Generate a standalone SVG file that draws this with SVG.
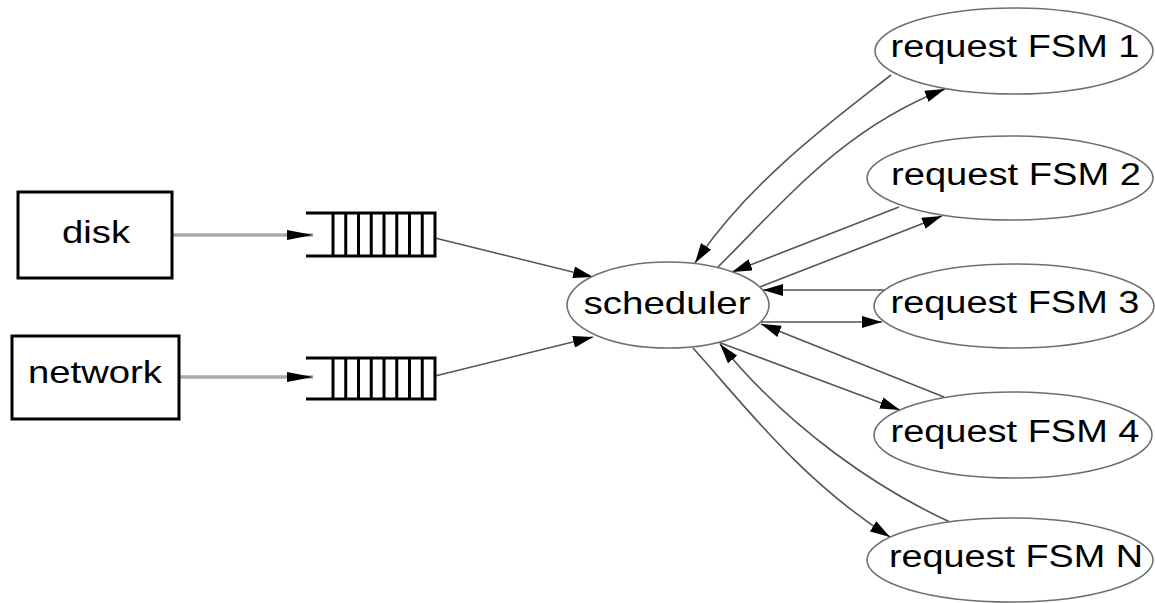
<svg xmlns="http://www.w3.org/2000/svg" width="1155" height="603" viewBox="0 0 1155 603">
<style>
.box{fill:#fff;stroke:#000;stroke-width:3}
.ell{fill:#fff;stroke:#6e6e6e;stroke-width:1.6}
.lbl{font-family:"Liberation Sans",Arial,sans-serif;font-size:32px;fill:#000;text-anchor:middle}
.fsm{font-size:31px}
.edge{fill:none;stroke:#555;stroke-width:1.6;marker-end:url(#ah)}
.in{fill:none;stroke:#aaa;stroke-width:3.5;marker-end:url(#ah2)}
.q{fill:none;stroke:#000;stroke-width:3}
</style>
<defs>
<marker id="ah" markerUnits="userSpaceOnUse" markerWidth="20" markerHeight="12" refX="20" refY="6" orient="auto">
<path d="M0,0 L20,6 L0,12 z" fill="#000"/>
</marker>
<marker id="ah2" markerUnits="userSpaceOnUse" markerWidth="26" markerHeight="10" refX="26" refY="5" orient="auto">
<path d="M0,0 L26,5 L0,10 z" fill="#000"/>
</marker>
</defs>
<rect width="1155" height="603" fill="#fff"/>
<g id="connectors">
<path class="in" d="M172,235 L313,235"/>
<path class="in" d="M179,377 L313,377"/>
<path class="edge" d="M435,238 L593,277"/>
<path class="edge" d="M435,376 L593,337"/>
<path class="edge" d="M891,75 C840,115 750,180 695,263"/>
<path class="edge" d="M718,267 C790,195 845,128 945,89"/>
<path class="edge" d="M899,207 L732,272"/>
<path class="edge" d="M760,287 L942,216"/>
<path class="edge" d="M884,290 L763,290"/>
<path class="edge" d="M761,322 L882,322"/>
<path class="edge" d="M944,397 L761,324"/>
<path class="edge" d="M718,342 L900,410"/>
<path class="edge" d="M950,522 C880,490 790,430 720,344"/>
<path class="edge" d="M693,348 C740,400 800,480 890,537"/>
</g>
<g id="disk">
<rect class="box" x="18" y="192" width="154" height="86"/>
<text class="lbl" x="96" y="243" textLength="68" lengthAdjust="spacingAndGlyphs">disk</text>
</g>
<g id="network">
<rect class="box" x="12" y="336" width="167" height="83"/>
<text class="lbl" x="95" y="383" textLength="134" lengthAdjust="spacingAndGlyphs">network</text>
</g>
<g id="queue1">
<path class="q" d="M306,213 H435 V256 H306 M333,213 V256 M345.75,213 V256 M358.5,213 V256 M371.25,213 V256 M384,213 V256 M396.75,213 V256 M409.5,213 V256 M422.25,213 V256"/>
</g>
<g id="queue2">
<path class="q" d="M306,358 H435 V399 H306 M333,358 V399 M345.75,358 V399 M358.5,358 V399 M371.25,358 V399 M384,358 V399 M396.75,358 V399 M409.5,358 V399 M422.25,358 V399"/>
</g>
<g id="scheduler">
<ellipse class="ell" cx="668" cy="305" rx="101" ry="43"/>
<text class="lbl" x="667" y="314" textLength="167" lengthAdjust="spacingAndGlyphs">scheduler</text>
</g>
<g id="fsm1">
<ellipse class="ell" cx="1014" cy="51" rx="139" ry="43"/>
<text class="lbl fsm" x="1015" y="57" textLength="249" lengthAdjust="spacingAndGlyphs">request FSM 1</text>
</g>
<g id="fsm2">
<ellipse class="ell" cx="1010" cy="178" rx="143" ry="42"/>
<text class="lbl fsm" x="1016" y="185" textLength="250" lengthAdjust="spacingAndGlyphs">request FSM 2</text>
</g>
<g id="fsm3">
<ellipse class="ell" cx="1014" cy="306" rx="140" ry="42"/>
<text class="lbl fsm" x="1015" y="313" textLength="249" lengthAdjust="spacingAndGlyphs">request FSM 3</text>
</g>
<g id="fsm4">
<ellipse class="ell" cx="1013" cy="435" rx="139" ry="43"/>
<text class="lbl fsm" x="1015" y="442" textLength="249" lengthAdjust="spacingAndGlyphs">request FSM 4</text>
</g>
<g id="fsmN">
<ellipse class="ell" cx="1010" cy="560" rx="143" ry="42"/>
<text class="lbl fsm" x="1016" y="567" textLength="254" lengthAdjust="spacingAndGlyphs">request FSM N</text>
</g>
</svg>
